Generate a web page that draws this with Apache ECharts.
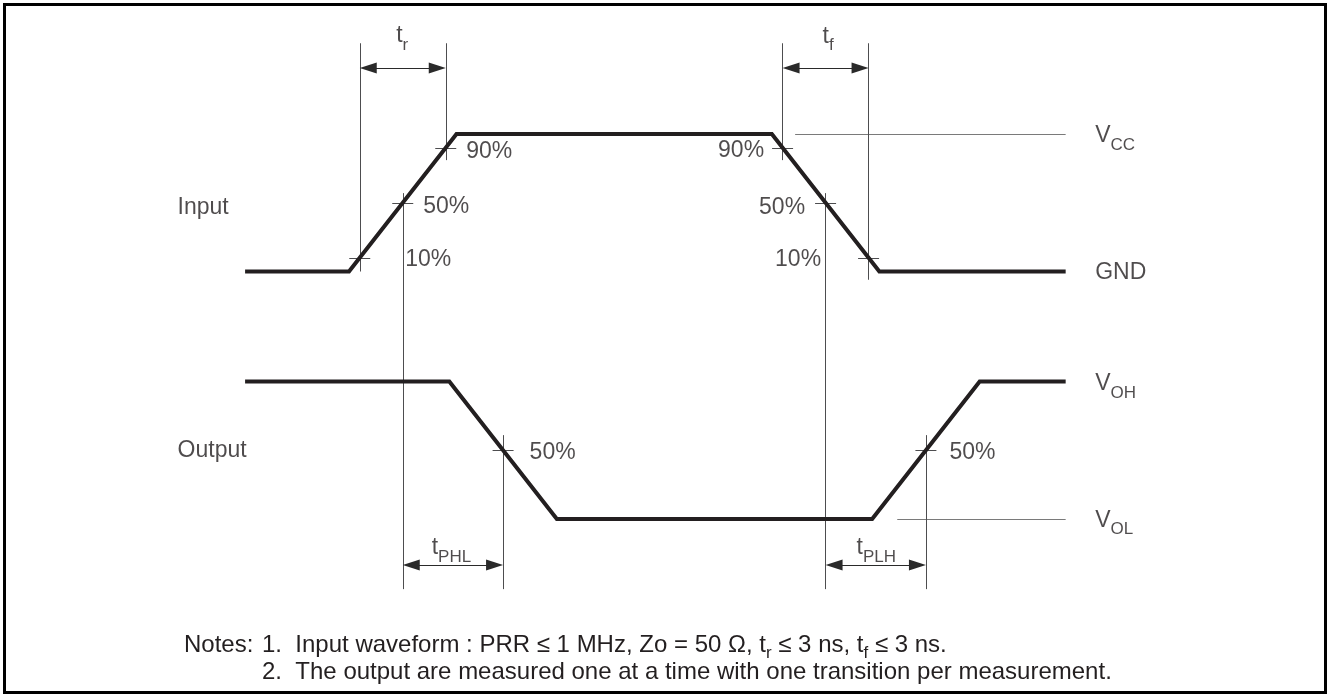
<!DOCTYPE html>
<html>
<head>
<meta charset="utf-8">
<style>
  html, body { margin: 0; padding: 0; background: #fff; }
  #chart { width: 1327px; height: 700px; }
</style>
</head>
<body>
<div id="chart"></div>
<script src="https://cdn.jsdelivr.net/npm/echarts@6/dist/echarts.min.js"></script>
<script>
// time in ns, level as a fraction of the swing (0 = low, 1 = high)
const inputTime = [-2.9, 0, 3, 11.8, 14.8, 20];
const inputLevel = [0, 0, 1, 1, 0, 0];
const outputTime = [-2.9, 2.8, 5.8, 14.6, 17.6, 20];
const outputLevel = [1, 1, 0, 0, 1, 1];
const inputOffset = 1.8; // input trace sits above the output on the shared level axis

// threshold crossings
const crossLevel = [0.1, 0.5, 0.9];
const crossText = ["10%", "50%", "90%"];
const riseCrossTime = [0.3, 1.5, 2.7];
const fallCrossTime = [14.5, 13.3, 12.1];
const outCrossTime = [4.3, 16.1];

// timing parameters
const timingSub = ["r", "f", "PHL", "PLH"];
const timingFrom = [0.3, 12.1, 1.5, 13.3];
const timingTo = [2.7, 14.5, 4.3, 16.1];

// rails on the right
const railMain = ["V", "GND", "V", "V"];
const railSub = ["CC", "", "OH", "OL"];
const railLevel = [inputOffset + 1, inputOffset, 1, 0];
const refLineStart = [12.45, 15.3]; // thin VCC and VOL reference lines

const signalNames = ["Input", "Output"];

const ink = "#231f20";
const font = "Liberation Sans, Arial, Helvetica, sans-serif";
const nsPx = 35.833; // px per ns at this size
const arrowInset = 8.5 / nsPx;
const crossHalf = 10.5 / nsPx;
const witnessTop = 3.46, arrowTop = 3.28, arrowBottom = -0.335, delayBottom = -0.51;

const rich = {
  n: { fontSize: 23, lineHeight: 23, verticalAlign: "top", color: ink, fontFamily: font },
  s: { fontSize: 17, lineHeight: 17, padding: [12, 0, 0, 0], verticalAlign: "top", color: ink, fontFamily: font }
};
function txt(main, s) {
  return s ? "{n|" + main + "}{s|" + s + "}" : "{n|" + main + "}";
}
function tag(t, v, text, dx, dy, align) {
  return {
    value: [t, v],
    label: { formatter: text, position: [dx, dy], align: align, verticalAlign: "middle" }
  };
}

const chart = echarts.init(document.getElementById("chart"));

let inputData = inputTime.map((t, i) => [t, inputOffset + inputLevel[i]]);
let outputData = outputTime.map((t, i) => [t, outputLevel[i]]);

// witness / extension lines
let witness = [
  [[riseCrossTime[0], inputOffset], [riseCrossTime[0], witnessTop]],
  [[riseCrossTime[2], 2.61], [riseCrossTime[2], witnessTop]],
  [[riseCrossTime[1], delayBottom], [riseCrossTime[1], 2.37]],
  [[fallCrossTime[2], 2.61], [fallCrossTime[2], witnessTop]],
  [[fallCrossTime[0], 1.74], [fallCrossTime[0], witnessTop]],
  [[fallCrossTime[1], delayBottom], [fallCrossTime[1], 2.37]],
  [[outCrossTime[0], delayBottom], [outCrossTime[0], 0.61]],
  [[outCrossTime[1], delayBottom], [outCrossTime[1], 0.61]]
];
let crossPts = [];
crossLevel.forEach((c, i) => {
  crossPts.push([riseCrossTime[i], inputOffset + c]);
  crossPts.push([fallCrossTime[i], inputOffset + c]);
});
outCrossTime.forEach((t) => crossPts.push([t, 0.5]));
crossPts.forEach((p) => {
  witness.push([[p[0] - crossHalf, p[1]], [p[0] + crossHalf, p[1]]]);
});

let refLines = [
  [[refLineStart[0], railLevel[0]], [inputTime[inputTime.length - 1], railLevel[0]]],
  [[refLineStart[1], railLevel[3]], [outputTime[outputTime.length - 1], railLevel[3]]]
];

let arrows = timingFrom.map((f, i) => {
  let lv = i < 2 ? arrowTop : arrowBottom;
  return { coords: [[f + arrowInset, lv], [timingTo[i] - arrowInset, lv]] };
});

// labels
let tags = [];
let riseOff = [[46, 2], [21, 4], [21, 4]];
let fallOff = [[-47, 2], [-20, 5], [-18, 3]];
crossLevel.forEach((c, i) => {
  tags.push(tag(riseCrossTime[i], inputOffset + c, txt(crossText[i]), riseOff[i][0], riseOff[i][1], "left"));
  tags.push(tag(fallCrossTime[i], inputOffset + c, txt(crossText[i]), fallOff[i][0], fallOff[i][1], "right"));
});
tags.push(tag(outCrossTime[0], 0.5, txt("50%"), 27, 3, "left"));
tags.push(tag(outCrossTime[1], 0.5, txt("50%"), 24, 3, "left"));
tags.push(tag(inputTime[0], inputOffset + 0.5, txt(signalNames[0]), -67, 5, "left"));
tags.push(tag(outputTime[0], 0.5, txt(signalNames[1]), -67, 1, "left"));
let railDy = [2.5, 2, 3, 2];
railMain.forEach((m, i) => {
  tags.push(tag(20, railLevel[i], txt(m, railSub[i]), 30, railDy[i], "left"));
});
let timingOff = [[0, -31.5], [3, -31], [-1, -16.5], [1, -16.5]];
timingSub.forEach((s, i) => {
  let lv = i < 2 ? arrowTop : arrowBottom;
  tags.push(tag((timingFrom[i] + timingTo[i]) / 2, lv, txt("t", s), timingOff[i][0], timingOff[i][1], "center"));
});

const noteRich = {
  n: { fontSize: 24, lineHeight: 24, verticalAlign: "top", fill: ink, fontFamily: font },
  s: { fontSize: 17, lineHeight: 17, padding: [12, 0, 0, 0], verticalAlign: "top", fill: ink, fontFamily: font }
};

let option = {
  animation: false,
  backgroundColor: "#fff",
  grid: { left: 205.67, right: 225.5, top: 10.25, bottom: 29.75, show: false },
  xAxis: { type: "value", min: -4, max: 21, show: false },
  yAxis: { type: "value", min: -1.1, max: 3.7, show: false },
  graphic: [
    {
      type: "rect",
      shape: { x: 4.5, y: 4.5, width: 1321, height: 688 },
      style: { fill: "none", stroke: "#000", lineWidth: 3 },
      silent: true
    },
    {
      type: "text", x: 184, y: 645, silent: true,
      style: { text: "{n|Notes:}", rich: noteRich, verticalAlign: "middle" }
    },
    {
      type: "text", x: 262, y: 645, silent: true,
      style: {
        text: "{n|1.  Input waveform : PRR \u2264 1 MHz, Zo = 50 \u03a9, t}{s|r}{n| \u2264 3 ns, t}{s|f}{n| \u2264 3 ns.}",
        rich: noteRich, verticalAlign: "middle"
      }
    },
    {
      type: "text", x: 262, y: 672, silent: true,
      style: {
        text: "{n|2.  The output are measured one at a time with one transition per measurement.}",
        rich: noteRich, verticalAlign: "middle"
      }
    }
  ],
  series: [
    {
      type: "lines", coordinateSystem: "cartesian2d", silent: true, z: 1,
      data: refLines.map((c) => ({ coords: c })),
      lineStyle: { color: "#7a7a7a", width: 1, opacity: 1 }
    },
    {
      type: "lines", coordinateSystem: "cartesian2d", silent: true, z: 2,
      data: witness.map((c) => ({ coords: c })),
      lineStyle: { color: "#4d4d4f", width: 1, opacity: 1 }
    },
    {
      type: "lines", coordinateSystem: "cartesian2d", silent: true, z: 2,
      data: arrows,
      symbol: ["triangle", "triangle"],
      symbolSize: [[11, 17], [11, 17]],
      lineStyle: { color: "#2a2a2a", width: 1, opacity: 1 }
    },
    {
      type: "line", name: "Input", data: inputData, symbol: "none", silent: true, z: 3,
      lineStyle: { color: ink, width: 4, join: "miter" }
    },
    {
      type: "line", name: "Output", data: outputData, symbol: "none", silent: true, z: 3,
      lineStyle: { color: ink, width: 4, join: "miter" }
    },
    {
      type: "scatter", data: tags, symbolSize: 1, silent: true, z: 4,
      itemStyle: { color: "rgba(0,0,0,0)" },
      label: { show: true, rich: rich, color: ink, fontFamily: font, fontSize: 23 }
    }
  ]
};

chart.setOption(option);
window.addEventListener("resize", () => chart.resize());
</script>
</body>
</html>
